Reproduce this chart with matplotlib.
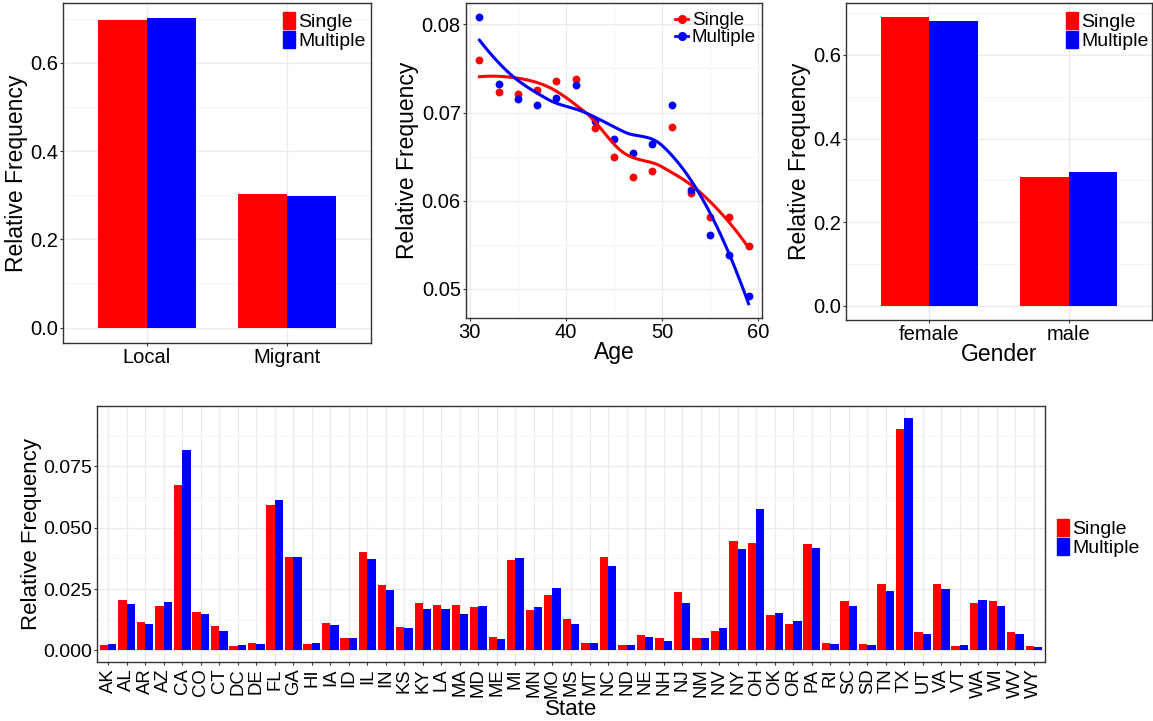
import numpy as np
import matplotlib
matplotlib.use("Agg")
import matplotlib.pyplot as plt
from matplotlib.lines import Line2D
from matplotlib.patches import Patch

plt.rcParams['font.family'] = ['Liberation Sans', 'DejaVu Sans']

# ---- data ----
origin_cats = ["Local", "Migrant"]
origin_single = [0.698, 0.302]
origin_multiple = [0.701, 0.299]

ages = [31, 33, 35, 37, 39, 41, 43, 45, 47, 49, 51, 53, 55, 57, 59]
age_single = [0.0760, 0.0723, 0.0721, 0.0725, 0.0736, 0.0738, 0.0682, 0.0650,
              0.0627, 0.0634, 0.0684, 0.0609, 0.0582, 0.0581, 0.0548]
age_multiple = [0.0808, 0.0732, 0.0715, 0.0709, 0.0717, 0.0731, 0.0690, 0.0670,
                0.0654, 0.0664, 0.0708, 0.0612, 0.0561, 0.0538, 0.0492]

gender_cats = ["female", "male"]
gender_single = [0.690, 0.309]
gender_multiple = [0.681, 0.319]

states = ["AK", "AL", "AR", "AZ", "CA", "CO", "CT", "DC", "DE", "FL", "GA", "HI",
          "IA", "ID", "IL", "IN", "KS", "KY", "LA", "MA", "MD", "ME", "MI", "MN",
          "MO", "MS", "MT", "NC", "ND", "NE", "NH", "NJ", "NM", "NV", "NY", "OH",
          "OK", "OR", "PA", "RI", "SC", "SD", "TN", "TX", "UT", "VA", "VT", "WA",
          "WI", "WV", "WY"]
state_single = [0.0023, 0.0207, 0.0117, 0.0182, 0.0675, 0.0158, 0.0101, 0.0019,
                0.0031, 0.0594, 0.0382, 0.0027, 0.0113, 0.0052, 0.0402, 0.0268,
                0.0096, 0.0194, 0.0186, 0.0186, 0.0178, 0.0056, 0.0370, 0.0166,
                0.0227, 0.0129, 0.0031, 0.0382, 0.0023, 0.0064, 0.0052, 0.0239,
                0.0052, 0.0080, 0.0447, 0.0439, 0.0145, 0.0109, 0.0435, 0.0031,
                0.0203, 0.0027, 0.0272, 0.0904, 0.0076, 0.0272, 0.0019, 0.0194,
                0.0203, 0.0076, 0.0019]
state_multiple = [0.0027, 0.0190, 0.0109, 0.0198, 0.0818, 0.0149, 0.0080, 0.0023,
                  0.0027, 0.0614, 0.0382, 0.0031, 0.0105, 0.0052, 0.0374, 0.0247,
                  0.0092, 0.0170, 0.0170, 0.0149, 0.0182, 0.0048, 0.0378, 0.0178,
                  0.0255, 0.0109, 0.0031, 0.0345, 0.0023, 0.0056, 0.0039, 0.0194,
                  0.0052, 0.0092, 0.0414, 0.0578, 0.0154, 0.0121, 0.0419, 0.0027,
                  0.0182, 0.0023, 0.0243, 0.0949, 0.0068, 0.0251, 0.0023, 0.0207,
                  0.0182, 0.0068, 0.0015]

RED = "#FF0000"
BLUE = "#0000FF"
W, H = 1153, 721


def local_fit(x, y, x0, q):
    # weighted local quadratic, returns value and slope at x0
    d = np.abs(x - x0)
    h = np.sort(d)[q - 1]
    w = np.clip(1 - (d / h) ** 3, 0, None) ** 3
    X = np.column_stack([np.ones_like(x), x - x0, (x - x0) ** 2])
    XtW = X.T * w
    beta = np.linalg.solve(XtW @ X, XtW @ y)
    return beta[0], beta[1]


def loess(x, y, xs, span=0.75, cell=0.2):
    # loess with kd-tree vertices + cubic hermite interpolation (R default surface)
    x = np.asarray(x, float)
    y = np.asarray(y, float)
    order = np.argsort(x)
    x, y = x[order], y[order]
    n = len(x)
    q = int(np.floor(n * span))
    fc = int(np.floor(n * span * cell))
    mu = 0.005 * (x[-1] - x[0])
    verts = [x[0] - mu, x[-1] + mu]

    def split(l, u):
        if u - l + 1 <= fc:
            return
        m = (l + u) // 2
        verts.append((x[m] + x[m + 1]) / 2)
        split(l, m)
        split(m + 1, u)

    split(0, n - 1)
    verts = np.array(sorted(verts))
    fits = np.array([local_fit(x, y, v, q) for v in verts])
    out = []
    for xi in xs:
        j = min(np.searchsorted(verts, xi, side="right") - 1, len(verts) - 2)
        v0, v1 = verts[j], verts[j + 1]
        hgt = v1 - v0
        t = (xi - v0) / hgt
        f0, d0 = fits[j]
        f1, d1 = fits[j + 1]
        h00 = 2 * t**3 - 3 * t**2 + 1
        h10 = t**3 - 2 * t**2 + t
        h01 = -2 * t**3 + 3 * t**2
        h11 = t**3 - t**2
        out.append(h00 * f0 + h10 * hgt * d0 + h01 * f1 + h11 * hgt * d1)
    return np.array(out)


def px_axes(fig, left, top, right, bottom):
    return fig.add_axes([left / W, 1 - bottom / H, (right - left) / W, (bottom - top) / H])


def style(ax, tsize):
    ax.set_axisbelow(True)
    for s in ax.spines.values():
        s.set_color("#333333")
        s.set_linewidth(1.0)
    ax.grid(which="major", color="#ebebeb", lw=1.0)
    ax.grid(which="minor", color="#f3f3f3", lw=0.6)
    ax.tick_params(which="major", direction="out", length=2.2, width=0.8,
                   color="#333333", labelsize=tsize, labelcolor="black", pad=1.5)
    ax.tick_params(which="minor", length=0)


def set_ylabel_px(ax, text, size, right_px, left, right):
    # right edge of the rotated label sits at right_px (figure pixels)
    ax.set_ylabel(text, fontsize=size)
    ax.yaxis.set_label_coords((right_px - left) / (right - left), 0.5)


def set_xlabel_px(ax, text, size, top_px, top, bottom):
    ax.set_xlabel(text, fontsize=size)
    ax.xaxis.set_label_coords(0.5, -(top_px - bottom) / (bottom - top))


def pad(lo, hi, f=0.05):
    r = hi - lo
    return lo - f * r, hi + f * r


def add_legend(fig, handles, labels, x, y, size, **kw):
    fig.legend(handles, labels, loc="upper left", bbox_to_anchor=(x / W, 1 - y / H),
               frameon=False, fontsize=size, borderpad=0, borderaxespad=0,
               labelspacing=0.0, handletextpad=0.2, **kw)


fig = plt.figure(figsize=(W / 100, H / 100), dpi=100)

bar_handles = [Patch(color=RED), Patch(color=BLUE)]
labels = ["Single", "Multiple"]


def top_bars(ax, cats, s, m):
    x = np.arange(len(cats))
    bw = 0.35
    ax.bar(x - bw / 2, s, bw, color=RED)
    ax.bar(x + bw / 2, m, bw, color=BLUE)
    ax.set_xticks(x)
    ax.set_xticklabels(cats)
    ax.set_xlim(-0.6, len(cats) - 0.4)
    ax.set_ylim(*pad(0, max(max(s), max(m))))
    ax.set_yticks([0.0, 0.2, 0.4, 0.6])
    ax.set_yticks([0.1, 0.3, 0.5, 0.7], minor=True)
    ax.set_yticklabels(["0.0", "0.2", "0.4", "0.6"])
    style(ax, 14.5)


# panel 1: origin
ax1 = px_axes(fig, 63, 3, 371, 343)
top_bars(ax1, origin_cats, origin_single, origin_multiple)
set_ylabel_px(ax1, "Relative Frequency", 16.5, 28, 63, 371)
add_legend(fig, bar_handles, labels, 283, 12, 14, handlelength=0.6, handleheight=0.95)

# panel 2: age
ax2 = px_axes(fig, 466, 3, 762, 318)
xs = np.linspace(min(ages), max(ages), 80)
fit_s = loess(ages, age_single, xs)
fit_m = loess(ages, age_multiple, xs)
ax2.scatter(ages, age_single, s=32, color=RED, zorder=3, linewidths=0)
ax2.scatter(ages, age_multiple, s=32, color=BLUE, zorder=3, linewidths=0)
ax2.plot(xs, fit_s, color=RED, lw=2.2, zorder=4)
ax2.plot(xs, fit_m, color=BLUE, lw=2.2, zorder=4)
ax2.set_xlim(*pad(min(ages), max(ages)))
lo = min(min(age_single), min(age_multiple), fit_s.min(), fit_m.min())
hi = max(max(age_single), max(age_multiple), fit_s.max(), fit_m.max())
ax2.set_ylim(*pad(lo, hi))
ax2.set_xticks([30, 40, 50, 60])
ax2.set_xticks([35, 45, 55], minor=True)
ax2.set_yticks([0.05, 0.06, 0.07, 0.08])
ax2.set_yticks([0.055, 0.065, 0.075], minor=True)
ax2.set_yticklabels(["0.05", "0.06", "0.07", "0.08"])
style(ax2, 14.5)
set_xlabel_px(ax2, "Age", 16.5, 341, 3, 318)
set_ylabel_px(ax2, "Relative Frequency", 16.5, 419, 466, 762)
line_handles = [Line2D([], [], color=RED, marker="o", lw=2, markersize=5.5),
                Line2D([], [], color=BLUE, marker="o", lw=2, markersize=5.5)]
add_legend(fig, line_handles, labels, 675, 12, 13.5, handlelength=0.7)

# panel 3: gender
ax3 = px_axes(fig, 846, 3, 1152, 320)
top_bars(ax3, gender_cats, gender_single, gender_multiple)
set_xlabel_px(ax3, "Gender", 16.5, 343, 3, 320)
set_ylabel_px(ax3, "Relative Frequency", 16.5, 811, 846, 1152)
add_legend(fig, bar_handles, labels, 1066, 12, 14, handlelength=0.6, handleheight=0.95)

# bottom: states
ax4 = px_axes(fig, 97, 406, 1045, 662)
x = np.arange(len(states))
bw = 0.45
ax4.bar(x - bw / 2, state_single, bw, color=RED)
ax4.bar(x + bw / 2, state_multiple, bw, color=BLUE)
ax4.set_xticks(x)
ax4.set_xticklabels(states, rotation=90)
ax4.set_xlim(-0.6, len(states) - 0.4)
ax4.set_ylim(*pad(0, max(max(state_single), max(state_multiple))))
ax4.set_yticks([0.0, 0.025, 0.05, 0.075])
ax4.set_yticks([0.0125, 0.0375, 0.0625, 0.0875], minor=True)
ax4.set_yticklabels(["0.000", "0.025", "0.050", "0.075"])
style(ax4, 14)
ax4.tick_params(axis="x", labelsize=13.3, pad=2.5)
set_xlabel_px(ax4, "State", 16, 699, 406, 662)
set_ylabel_px(ax4, "Relative Frequency", 16, 42, 97, 1045)
add_legend(fig, bar_handles, labels, 1057, 519, 14, handlelength=0.6, handleheight=0.95)

fig.savefig("out.png", dpi=100)
